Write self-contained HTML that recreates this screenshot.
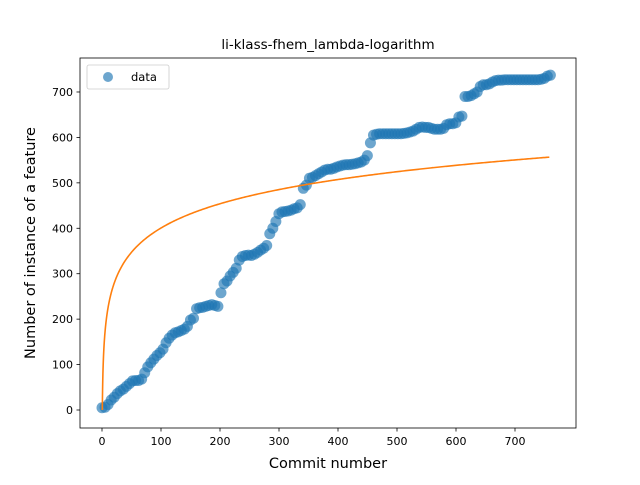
<!DOCTYPE html>
<html><head><meta charset="utf-8"><style>
body{margin:0;background:#fff;font-family:"Liberation Sans","DejaVu Sans",sans-serif}
svg text{font-family:"DejaVu Sans","Liberation Sans",sans-serif}
</style></head><body>
<svg id="c" width="640" height="480" xmlns="http://www.w3.org/2000/svg"></svg>
<script>
const xTicks=[0,100,200,300,400,500,600,700];
const yTicks=[0,100,200,300,400,500,600,700];
const commitStep=5.17;
const counts=[5,6,12,22,28,36,42,46,52,58,64,65,65,68,82,95,104,112,120,126,134,148,158,165,170,172,175,178,184,198,202,223,225,226,228,230,232,230,228,258,278,284,295,303,312,330,338,340,341,340,343,347,352,356,362,388,400,415,432,436,437,438,440,443,445,452,488,495,510,512,516,520,524,528,530,530,532,535,537,539,540,540,541,542,544,546,550,560,588,605,607,608,608,608,608,608,608,608,608,609,610,612,614,618,622,623,622,622,620,618,618,618,620,628,630,630,632,645,647,690,690,692,696,700,712,716,716,718,722,725,726,726,727,727,727,727,727,727,727,727,727,727,727,727,728,730,735,737];
const fitA=77, fitB=46;
const NS="http://www.w3.org/2000/svg";
const svg=document.getElementById('c');
const L=80,R=576,T=58,B=428;
const sx=v=>102+v*0.59;
const sy=v=>410-v*0.4543;
function mk(t,a,p){const e=document.createElementNS(NS,t);for(const k in a)e.setAttribute(k,a[k]);(p||svg).appendChild(e);return e;}
const pts=mk('g',{});


counts.forEach((v,i)=>{const c=mk('circle',{cx:sx(i*commitStep),cy:sy(v),r:5.5,fill:'#1f77b4','fill-opacity':0.65},pts);

});
let d='';const xmax=(counts.length-1)*commitStep;
for(let x=0.55;x<=xmax;x+=(x<20?0.2:2)){d+=(d?'L':'M')+sx(x).toFixed(2)+','+sy(fitA*Math.log(x)+fitB).toFixed(2);}
const fit=mk('path',{d:d,fill:'none',stroke:'#ff7f0e','stroke-width':1.6});


const fr=mk('rect',{x:L,y:T,width:R-L,height:B-T,fill:'none',stroke:'#000','stroke-width':0.8});


xTicks.forEach(v=>{mk('line',{x1:sx(v),x2:sx(v),y1:B,y2:B+3.5,stroke:'#000','stroke-width':0.8});
const t=mk('text',{x:sx(v),y:B+17,'font-size':11,'text-anchor':'middle'});t.textContent=v;

});
yTicks.forEach(v=>{mk('line',{x1:L-3.5,x2:L,y1:sy(v),y2:sy(v),stroke:'#000','stroke-width':0.8});
const t=mk('text',{x:L-7,y:sy(v)+4,'font-size':11,'text-anchor':'end'});t.textContent=v;

});
const ti=mk('text',{x:328,y:49,'font-size':13.5,'text-anchor':'middle'});ti.textContent='li-klass-fhem_lambda-logarithm';


const xl=mk('text',{x:328,y:468,'font-size':14.5,'text-anchor':'middle'});xl.textContent='Commit number';


const yl=mk('text',{x:0,y:0,'font-size':14.5,'text-anchor':'middle',transform:'translate(35,243) rotate(-90)'});yl.textContent='Number of instance of a feature';


const lg=mk('g',{});


mk('rect',{x:87,y:65,width:82,height:24,rx:2,fill:'#fff','fill-opacity':0.8,stroke:'#ccc','stroke-width':0.8},lg);
mk('circle',{cx:108,cy:77,r:5,fill:'#1f77b4','fill-opacity':0.65},lg);
const lt=mk('text',{x:131,y:81,'font-size':11.5},lg);lt.textContent='data';


</script>
</body></html>
